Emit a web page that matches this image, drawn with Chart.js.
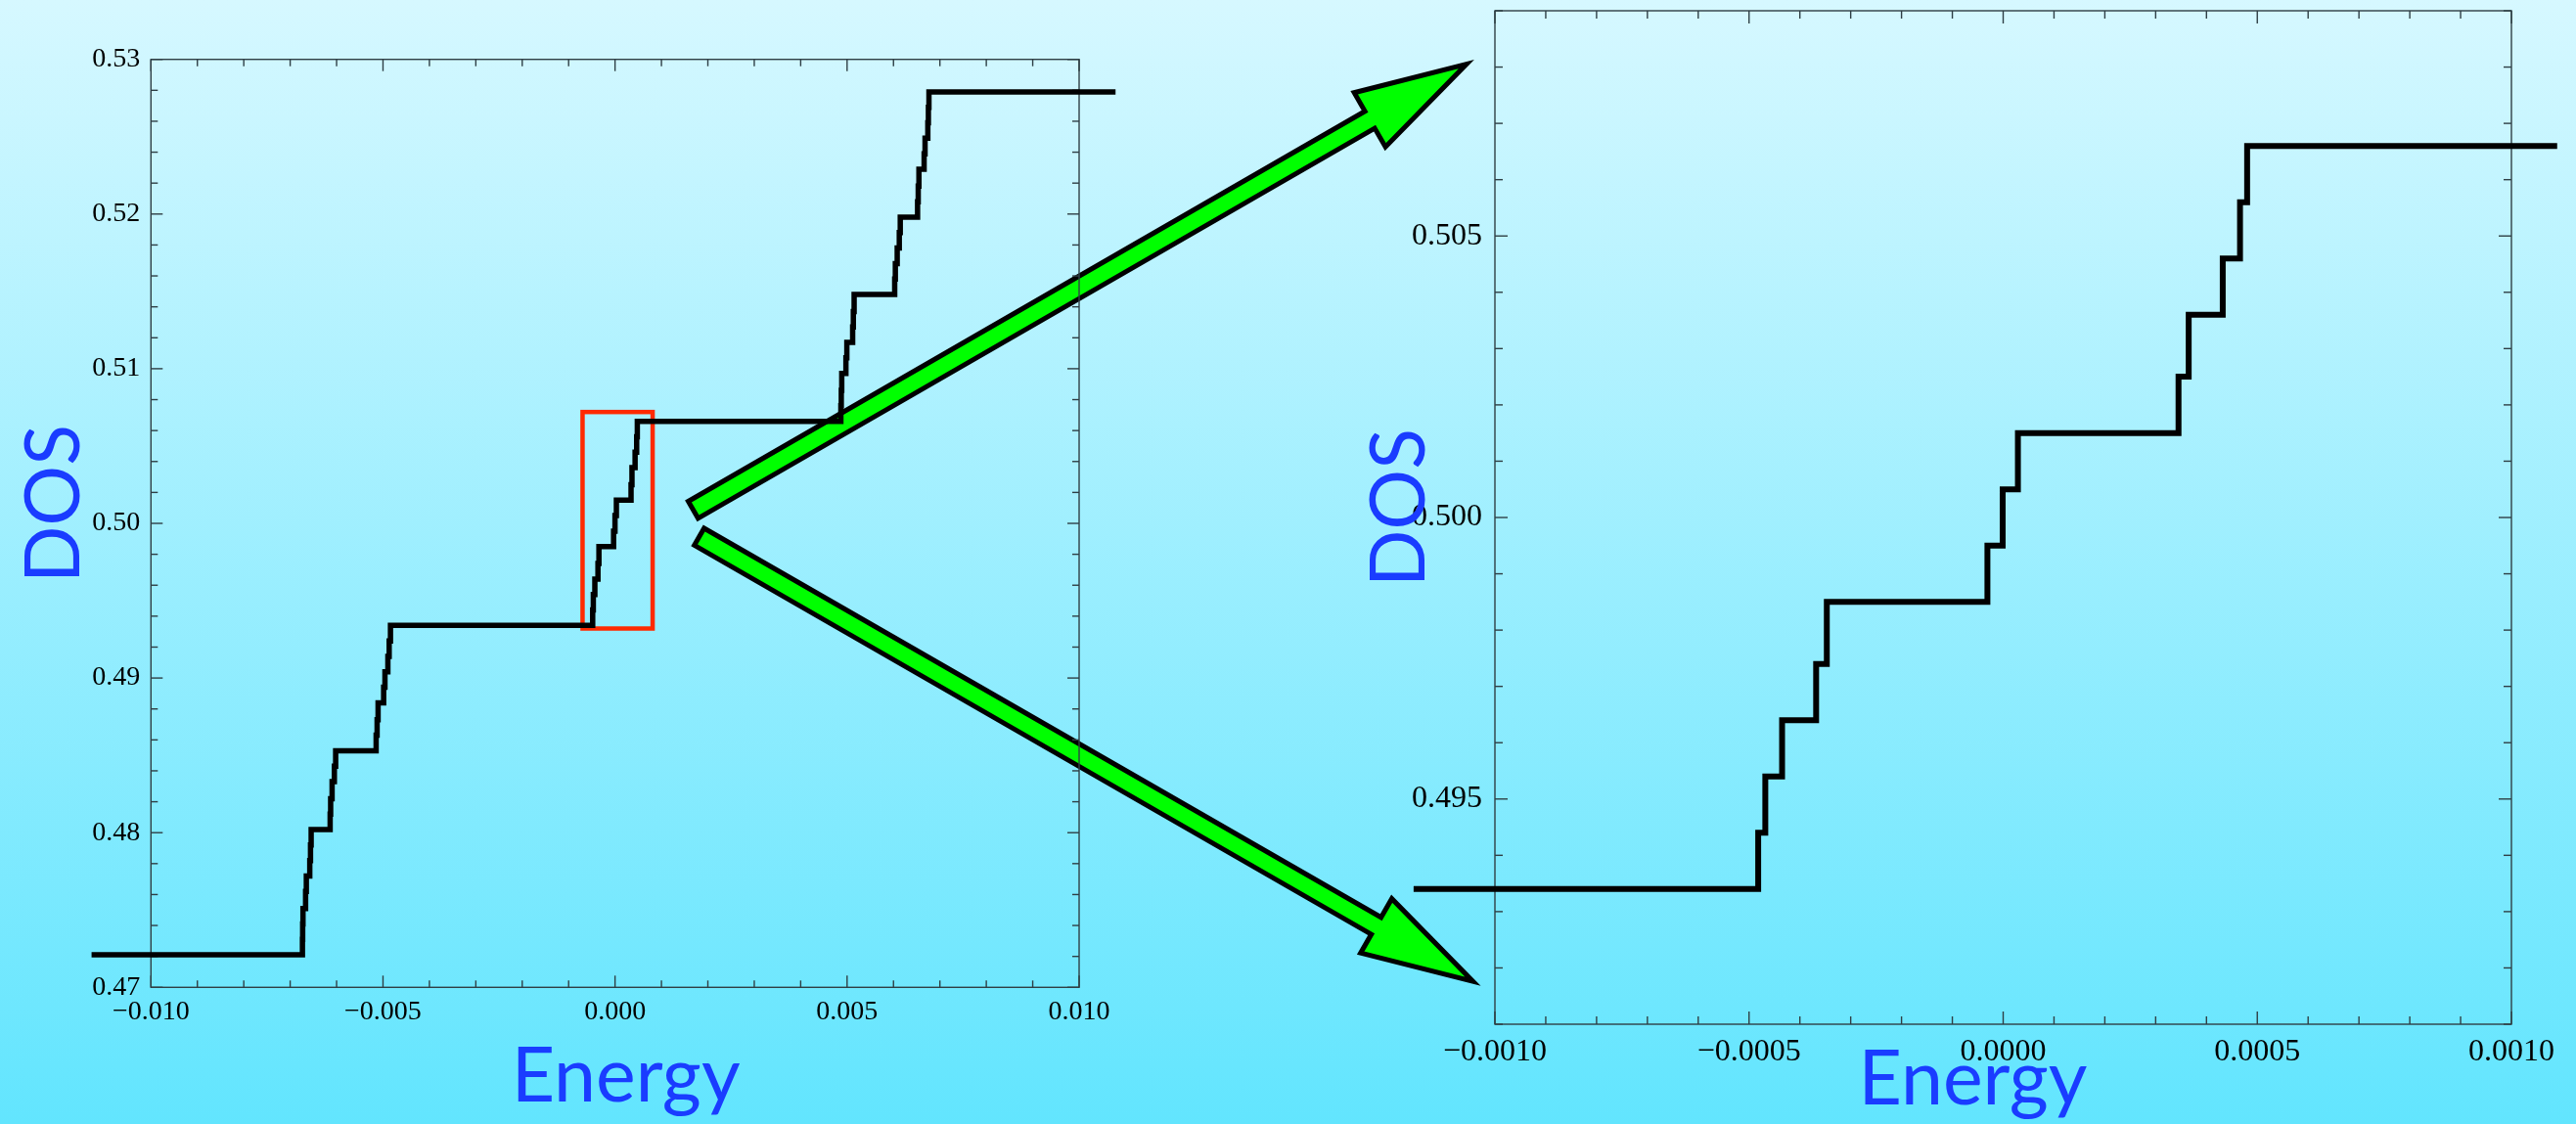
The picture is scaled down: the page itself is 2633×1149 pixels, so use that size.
<!DOCTYPE html>
<html>
<head>
<meta charset="utf-8">
<script src="https://cdn.jsdelivr.net/npm/chart.js@4.4.1/dist/chart.umd.min.js"></script>
<style>
  html, body { margin: 0; padding: 0; width: 2633px; height: 1149px; overflow: hidden; }
  body { position: relative; background: linear-gradient(to bottom, #d6f8ff 0%, #62e5fe 100%); }
  canvas { position: absolute; left: 0; top: 0; }
</style>
</head>
<body>
<canvas id="arrows" width="2633" height="1149"></canvas>
<canvas id="overview" width="2633" height="1149"></canvas>
<canvas id="detail" width="2633" height="1149"></canvas>
<script>
// ---- Overview staircase: each DOS value holds from its energy up to the next one ----
const overviewEnergy = [
  -0.01128,
  -0.006736, -0.006731, -0.006724, -0.006668, -0.006652, -0.006578, -0.006562, -0.006548,
  -0.006139, -0.006128, -0.006097, -0.006048, -0.006020,
  -0.005148, -0.005127, -0.005106, -0.004986, -0.004958, -0.004895, -0.004867, -0.004839,
  -0.000482, -0.000468, -0.000435, -0.000368, -0.000347, -0.000031, -0.000001, 0.000029,
   0.000345,  0.000365,  0.000432,  0.000466,  0.000480,
   0.004866,  0.004875,  0.004885,  0.004975,  0.004995,  0.005120,  0.005135,  0.005152,
   0.006026,  0.006040,  0.006080,  0.006125,  0.006146,
   0.006519,  0.006533,  0.006548,  0.006660,  0.006680,  0.006740,  0.006752,  0.006764,
   0.010785
];
const overviewDos = [
  0.4721,
  0.4731, 0.4741, 0.4751, 0.4762, 0.4772, 0.4782, 0.4792, 0.4802,
  0.4812, 0.4822, 0.4833, 0.4843, 0.4853,
  0.4863, 0.4873, 0.4884, 0.4894, 0.4904, 0.4914, 0.4924, 0.4934,
  0.4944, 0.4954, 0.4964, 0.4974, 0.4985, 0.4995, 0.5005, 0.5015,
  0.5025, 0.5036, 0.5046, 0.5056, 0.5066,
  0.5076, 0.5086, 0.5097, 0.5107, 0.5117, 0.5127, 0.5137, 0.5148,
  0.5158, 0.5168, 0.5178, 0.5188, 0.5198,
  0.5208, 0.5218, 0.5229, 0.5239, 0.5249, 0.5259, 0.5269, 0.5279,
  0.5279
];

// ---- Close-up of the central cluster of levels ----
const detailEnergy = [
  -0.00116,
  -0.000482, -0.000468, -0.000435, -0.000368, -0.000347, -0.000031, -0.000001,
   0.000029,  0.000345,  0.000365,  0.000432,  0.000466,  0.000480,
   0.00109
];
const detailDos = [
  0.4934,
  0.4944, 0.4954, 0.4964, 0.4974, 0.4985, 0.4995, 0.5005,
  0.5015, 0.5025, 0.5036, 0.5046, 0.5056, 0.5066,
  0.5066
];

// ---- Tick labels ----
const overviewXTicks = [-0.010, -0.005, 0.000, 0.005, 0.010];
const overviewYTicks = [0.47, 0.48, 0.49, 0.50, 0.51, 0.52, 0.53];
const detailXTicks = [-0.0010, -0.0005, 0.0000, 0.0005, 0.0010];
const detailYTicks = [0.495, 0.500, 0.505];

// ---- Magnified window marked on the overview ----
const windowEnergy = [-0.00070, 0.00081];
const windowDos = [0.4932, 0.5072];

const PAGE_W = 2633, PAGE_H = 1149;

function fmt(v, dec) {
  return v.toFixed(dec).replace('-', '\u2212');
}

// Frame on all four sides with inward major/minor ticks, plus an optional marked window
const frameTicks = {
  id: 'frameTicks',
  beforeDatasetsDraw(chart, args, opts) {
    const { ctx, chartArea: a, scales: { x, y } } = chart;
    ctx.save();
    if (opts.window) {
      const w = opts.window;
      const l = x.getPixelForValue(w.energy[0]), r = x.getPixelForValue(w.energy[1]);
      const t = y.getPixelForValue(w.dos[1]), b = y.getPixelForValue(w.dos[0]);
      ctx.strokeStyle = '#ff2a00';
      ctx.lineWidth = 4.5;
      ctx.lineJoin = 'miter';
      ctx.strokeRect(l, t, r - l, b - t);
    }
    ctx.strokeStyle = '#2f3f45';
    ctx.lineWidth = 1.4;
    ctx.strokeRect(a.left, a.top, a.right - a.left, a.bottom - a.top);
    const seg = (x0, y0, x1, y1) => { ctx.beginPath(); ctx.moveTo(x0, y0); ctx.lineTo(x1, y1); ctx.stroke(); };
    const isMajor = (v, list) => list.some(m => Math.abs(m - v) < 1e-9);
    // x ticks
    const nx = Math.round((x.max - x.min) / opts.xMinor);
    for (let i = 0; i <= nx; i++) {
      const v = x.min + i * opts.xMinor;
      const len = isMajor(v, opts.xMajor) ? opts.majorLen : opts.minorLen;
      const px = x.getPixelForValue(v);
      seg(px, a.bottom, px, a.bottom - len);
      seg(px, a.top, px, a.top + len);
    }
    // y ticks
    const ny = Math.round((y.max - y.min) / opts.yMinor);
    for (let i = 0; i <= ny; i++) {
      const v = y.min + i * opts.yMinor;
      const len = isMajor(v, opts.yMajor) ? opts.majorLen : opts.minorLen;
      const py = y.getPixelForValue(v);
      seg(a.left, py, a.left + len, py);
      seg(a.right, py, a.right - len, py);
    }
    ctx.restore();
  }
};

// Axis captions drawn relative to the plotting area
const axisCaptions = {
  id: 'axisCaptions',
  afterDraw(chart, args, opts) {
    const { ctx, chartArea: a } = chart;
    ctx.save();
    ctx.fillStyle = opts.color;
    ctx.font = opts.font;
    ctx.textAlign = 'center';
    ctx.textBaseline = 'alphabetic';
    const cx = (a.left + a.right) / 2, cy = (a.top + a.bottom) / 2;
    ctx.fillText(opts.xText, cx + opts.xDx, a.bottom + opts.xDy);
    ctx.translate(a.left + opts.yDx, cy + opts.yDy);
    ctx.rotate(-Math.PI / 2);
    ctx.fillText(opts.yText, 0, 0);
    ctx.restore();
  }
};

function buildChart(id, o) {
  const tickFont = { family: 'Liberation Serif', size: o.tickSize, lineHeight: 1.2 };
  return new Chart(document.getElementById(id), {
    type: 'line',
    data: {
      datasets: [{
        data: o.energy.map((e, i) => ({ x: e, y: o.dos[i] })),
        stepped: 'before',
        borderColor: '#000000',
        borderWidth: o.lineWidth,
        borderJoinStyle: 'miter',
        borderCapStyle: 'butt',
        pointRadius: 0,
        fill: false,
        clip: false,
        tension: 0
      }]
    },
    options: {
      responsive: false,
      animation: false,
      devicePixelRatio: 1,
      events: [],
      layout: {
        autoPadding: false,
        padding: {
          left: o.area.left - o.yAxisW,
          top: o.area.top,
          right: PAGE_W - o.area.right,
          bottom: PAGE_H - o.area.bottom - o.xAxisH
        }
      },
      plugins: {
        legend: { display: false },
        tooltip: { enabled: false },
        frameTicks: {
          window: o.window,
          xMinor: o.xMinor, yMinor: o.yMinor,
          xMajor: o.xTicks, yMajor: o.yTicks,
          majorLen: o.majorLen, minorLen: o.minorLen
        },
        axisCaptions: Object.assign({ color: '#1a3cff', font: '77px Lato', xText: 'Energy', yText: 'DOS' }, o.captions)
      },
      scales: {
        x: {
          type: 'linear', position: 'bottom', min: o.xMin, max: o.xMax, bounds: 'data',
          grid: { display: false, drawTicks: false },
          border: { display: false },
          ticks: {
            padding: o.xPad, font: tickFont, color: '#000000',
            maxRotation: 0, minRotation: 0, autoSkip: false,
            callback: v => fmt(v, o.xDec)
          },
          afterBuildTicks: s => { s.ticks = o.xTicks.map(v => ({ value: v })); },
          afterFit: s => { s.height = o.xAxisH; s.paddingLeft = 0; s.paddingRight = 0; }
        },
        y: {
          type: 'linear', position: 'left', min: o.yMin, max: o.yMax, bounds: 'data',
          grid: { display: false, drawTicks: false },
          border: { display: false },
          ticks: {
            padding: o.yPad, font: tickFont, color: '#000000', autoSkip: false,
            callback: v => fmt(v, o.yDec)
          },
          afterBuildTicks: s => { s.ticks = o.yTicks.map(v => ({ value: v })); },
          afterFit: s => { s.width = o.yAxisW; s.paddingTop = 0; s.paddingBottom = 0; }
        }
      }
    },
    plugins: [frameTicks, axisCaptions]
  });
}

// Green pointer arrows between the two panels (drawn beneath the charts)
function drawArrow(ctx, tail, tip, shaftW, headHalfW, headLen) {
  const dx = tip[0] - tail[0], dy = tip[1] - tail[1];
  const L = Math.hypot(dx, dy);
  const ux = dx / L, uy = dy / L, nx = -uy, ny = ux;
  const neck = [tip[0] - ux * headLen, tip[1] - uy * headLen];
  const s = shaftW / 2;
  const pts = [
    [tail[0] + nx * s, tail[1] + ny * s],
    [neck[0] + nx * s, neck[1] + ny * s],
    [neck[0] + nx * headHalfW, neck[1] + ny * headHalfW],
    tip,
    [neck[0] - nx * headHalfW, neck[1] - ny * headHalfW],
    [neck[0] - nx * s, neck[1] - ny * s],
    [tail[0] - nx * s, tail[1] - ny * s]
  ];
  ctx.beginPath();
  pts.forEach((p, i) => i ? ctx.lineTo(p[0], p[1]) : ctx.moveTo(p[0], p[1]));
  ctx.closePath();
  ctx.fillStyle = '#00ff00';
  ctx.fill();
  ctx.lineWidth = 5;
  ctx.lineJoin = 'miter';
  ctx.strokeStyle = '#000000';
  ctx.stroke();
}

const actx = document.getElementById('arrows').getContext('2d');
drawArrow(actx, [708.5, 521.2], [1498.9, 65.5], 20, 32, 114);
drawArrow(actx, [714.7, 548.7], [1505.5, 1003.2], 20, 32, 114);

buildChart('overview', {
  energy: overviewEnergy, dos: overviewDos,
  xTicks: overviewXTicks, yTicks: overviewYTicks,
  xMin: -0.010, xMax: 0.010, yMin: 0.47, yMax: 0.53,
  xMinor: 0.001, yMinor: 0.002, xDec: 3, yDec: 2,
  area: { left: 154.3, top: 60.7, right: 1103, bottom: 1009.3 },
  yAxisW: 140, xAxisH: 60, tickSize: 28, xPad: 9, yPad: 11,
  lineWidth: 5.5, majorLen: 12, minorLen: 7,
  window: { energy: windowEnergy, dos: windowDos },
  captions: { xDx: 11, xDy: 117, yDx: -73, yDy: -20 }
});

buildChart('detail', {
  energy: detailEnergy, dos: detailDos,
  xTicks: detailXTicks, yTicks: detailYTicks,
  xMin: -0.0010, xMax: 0.0010, yMin: 0.491, yMax: 0.509,
  xMinor: 0.0001, yMinor: 0.001, xDec: 4, yDec: 3,
  area: { left: 1528, top: 11, right: 2567, bottom: 1047 },
  yAxisW: 150, xAxisH: 60, tickSize: 32, xPad: 9, yPad: 13,
  lineWidth: 6, majorLen: 13, minorLen: 8,
  window: null,
  captions: { xDx: -31, xDy: 82, yDx: -72, yDy: -10 }
});
</script>
</body>
</html>
